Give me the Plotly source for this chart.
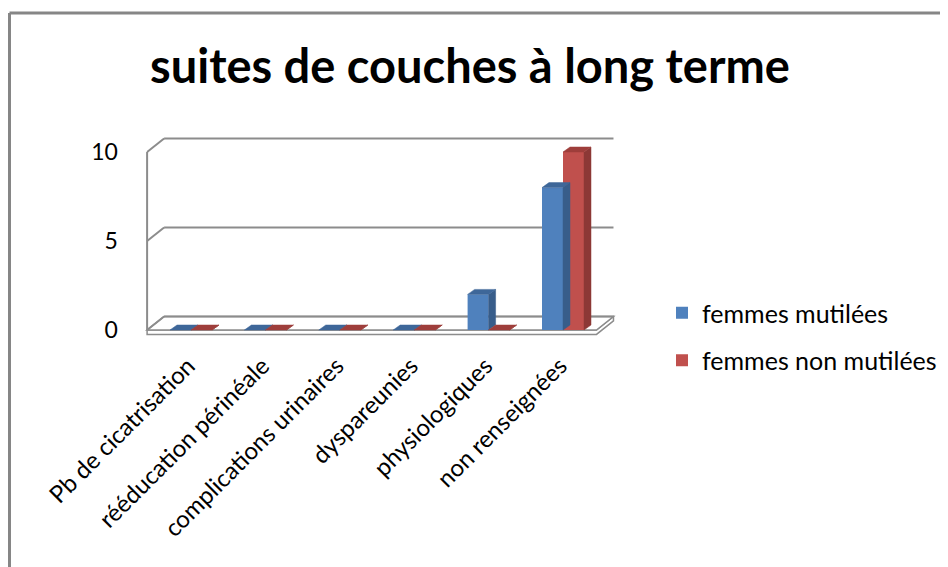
import plotly.graph_objects as go

# ---- data ----
categories = ["Pb de cicatrisation", "rééducation périnéale", "complications urinaires",
              "dyspareunies", "physiologiques", "non renseignées"]
series_names = ["femmes mutilées", "femmes non mutilées"]
mutilees = [0, 0, 0, 0, 2, 8]
non_mutilees = [0, 0, 0, 0, 0, 10]
y_ticks = [0, 5, 10]
title_text = "suites de couches à long terme"

# ---- layout constants (screen pixels; page body has an 8px margin) ----
W, H = 948, 567
OFF = 8
PX_PER_X = 74.4          # pixels per category
PX_PER_Y = 17.8          # pixels per unit value
CAT0_PX, Y0_PX = 191, 330
XR = (-0.62, 5.75)
YR = (-0.35, 11.0)


def px_x(p):
    return (p - OFF) / W


def px_y(p):
    return 1 - (p - OFF) / H


dom_x = [px_x(CAT0_PX + XR[0] * PX_PER_X), px_x(CAT0_PX + XR[1] * PX_PER_X)]
dom_y = [px_y(Y0_PX - YR[0] * PX_PER_Y), px_y(Y0_PX - YR[1] * PX_PER_Y)]

# depth of walls and bars in data units
WDX, WDY = 17 / PX_PER_X, 13.5 / PX_PER_Y
BDX, BDY = 7 / PX_PER_X, 5 / PX_PER_Y
BW = 21 / PX_PER_X

grid_col = "#8C8C8C"
front_cols = ["#4F81BD", "#C0504D"]
side_cols = ["#385D8A", "#8C3836"]
top_cols = ["#3E6799", "#9E3E3B"]

fig = go.Figure()

shapes = []
n = len(categories)
xl, xr = -0.59, n - 0.55
shapes.append(dict(type="path", xref="x", yref="y",
                   path=f"M{xl},{-0.25} L{xr},{-0.25} L{xr+WDX},{WDY-0.25} L{xr+WDX},{WDY} L{xr},0 L{xl},0 Z",
                   fillcolor="white", line=dict(color=grid_col, width=1.5), layer="below"))
shapes.append(dict(type="path", xref="x", yref="y",
                   path=f"M{xl},0 L{xr},0 L{xr+WDX},{WDY} L{xl+WDX},{WDY} Z",
                   fillcolor="white", line=dict(color=grid_col, width=1.5), layer="below"))
for v in y_ticks:
    shapes.append(dict(type="line", xref="x", yref="y", x0=xl + WDX, x1=xr + WDX,
                       y0=v + WDY, y1=v + WDY, line=dict(color=grid_col, width=2), layer="below"))
    shapes.append(dict(type="line", xref="x", yref="y", x0=xl, x1=xl + WDX,
                       y0=v, y1=v + WDY, line=dict(color=grid_col, width=2), layer="below"))
shapes.append(dict(type="line", xref="x", yref="y", x0=xl, x1=xl, y0=0, y1=max(y_ticks),
                   line=dict(color=grid_col, width=2), layer="below"))
# outer chart border (top and left edges visible)
shapes.append(dict(type="line", xref="paper", yref="paper", x0=px_x(9.5), x1=1.01,
                   y0=px_y(13), y1=px_y(13), line=dict(color="#868686", width=3)))
shapes.append(dict(type="line", xref="paper", yref="paper", x0=px_x(9.5), x1=px_x(9.5),
                   y0=px_y(13), y1=-0.02, line=dict(color="#868686", width=3)))

xs = list(range(n))
for k, (name, vals) in enumerate(zip(series_names, [mutilees, non_mutilees])):
    off = -BW if k == 0 else 0
    fig.add_trace(go.Bar(x=xs, y=vals, name=name, width=BW, offset=off,
                         marker=dict(color=front_cols[k], line=dict(width=0)),
                         legendgroup=f"g{k}"))
for k, vals in enumerate([mutilees, non_mutilees]):
    off = -BW if k == 0 else 0
    for i, v in zip(xs, vals):
        a = i + off
        b = a + BW
        fig.add_trace(go.Scatter(x=[b, b + BDX, b + BDX, b, b], y=[0, BDY, v + BDY, v, 0],
                                 mode="lines", fill="toself", fillcolor=side_cols[k],
                                 line=dict(width=0.5, color=side_cols[k]), showlegend=False,
                                 hoverinfo="skip"))
        fig.add_trace(go.Scatter(x=[a, b, b + BDX, a + BDX, a], y=[v, v, v + BDY, v + BDY, v],
                                 mode="lines", fill="toself", fillcolor=top_cols[k],
                                 line=dict(width=0.5, color=top_cols[k]), showlegend=False,
                                 hoverinfo="skip"))

fig.update_layout(
    width=W, height=H,
    margin=dict(l=0, r=0, t=0, b=0, autoexpand=False),
    paper_bgcolor="white", plot_bgcolor="rgba(0,0,0,0)",
    barmode="overlay",
    shapes=shapes,
    showlegend=True,
    hovermode=False,
    font=dict(family="Lato, Carlito, sans-serif", color="black"),
    title=dict(text=f"<b>{title_text}</b>", x=px_x(470), xanchor="center",
               y=px_y(67), yanchor="middle", font=dict(size=47, family="Lato, sans-serif")),
    legend=dict(x=px_x(662), y=px_y(290), xanchor="left", yanchor="top",
                font=dict(size=25), tracegroupgap=12, itemwidth=30,
                bgcolor="rgba(0,0,0,0)"),
    xaxis=dict(domain=dom_x, range=list(XR), tickmode="array", tickvals=xs,
               ticktext=categories, tickangle=-45, showgrid=False, zeroline=False,
               showline=False, ticks="", tickfont=dict(size=24), ticklabelstandoff=10,
               ticklabelshift=-3, automargin=False),
    yaxis=dict(domain=dom_y, range=list(YR), tickmode="array", tickvals=y_ticks,
               showgrid=False, zeroline=False, showline=False, ticks="",
               tickfont=dict(size=23), ticklabelstandoff=26, automargin=False),
)

fig.write_html("out.html")
